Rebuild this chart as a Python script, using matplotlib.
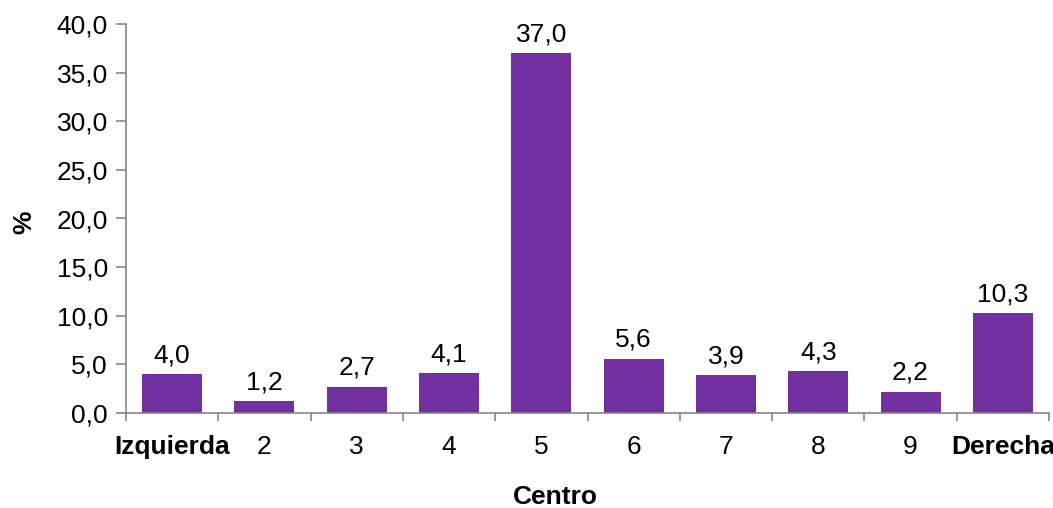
import matplotlib.pyplot as plt
import numpy as np

plt.rcParams['font.family'] = ['Liberation Sans', 'DejaVu Sans']

categorias = ['Izquierda', '2', '3', '4', '5', '6', '7', '8', '9', 'Derecha']
porcentajes = [4.0, 1.2, 2.7, 4.1, 37.0, 5.6, 3.9, 4.3, 2.2, 10.3]
yticks = [0, 5, 10, 15, 20, 25, 30, 35, 40]

fig = plt.figure(figsize=(10.53, 5.08), dpi=100)
ax = fig.add_axes([126 / 1053, (508 - 413) / 508, 923 / 1053, 389 / 508])

x = np.arange(len(categorias))
bars = ax.bar(x, porcentajes, width=0.65, color='#7030A0')

for xi, v in zip(x, porcentajes):
    ax.text(xi, v + 0.7, f'{v:.1f}'.replace('.', ','), ha='center', va='bottom', fontsize=19)

ax.set_xlim(-0.5, len(categorias) - 0.5)
ax.set_ylim(0, 40)
ax.set_yticks(yticks)
ax.set_yticklabels([f'{t:.1f}'.replace('.', ',') for t in yticks], fontsize=19)

ax.set_xticks(x)
ax.set_xticklabels(categorias, fontsize=19)
for lbl in ax.get_xticklabels():
    if lbl.get_text() in ('Izquierda', 'Derecha'):
        lbl.set_fontweight('bold')
ax.set_xticks(np.arange(-0.5, len(categorias)), minor=True)
ax.tick_params(axis='x', which='major', length=0, pad=16)
ax.tick_params(axis='x', which='minor', length=6, color='#868686', width=1.2)
ax.tick_params(axis='y', length=7, color='#868686', width=1.2, pad=6)

for s in ['top', 'right']:
    ax.spines[s].set_visible(False)
for s in ['left', 'bottom']:
    ax.spines[s].set_color('#868686')
    ax.spines[s].set_linewidth(1.2)

ax.set_xlabel('Centro', fontsize=19, fontweight='bold')
ax.xaxis.set_label_coords((555 - 126) / 923, -0.185)
ax.set_ylabel('%', fontsize=19, fontweight='bold')
ax.yaxis.set_label_coords(-0.097, 0.49)

fig.savefig('out.png', dpi=100)
